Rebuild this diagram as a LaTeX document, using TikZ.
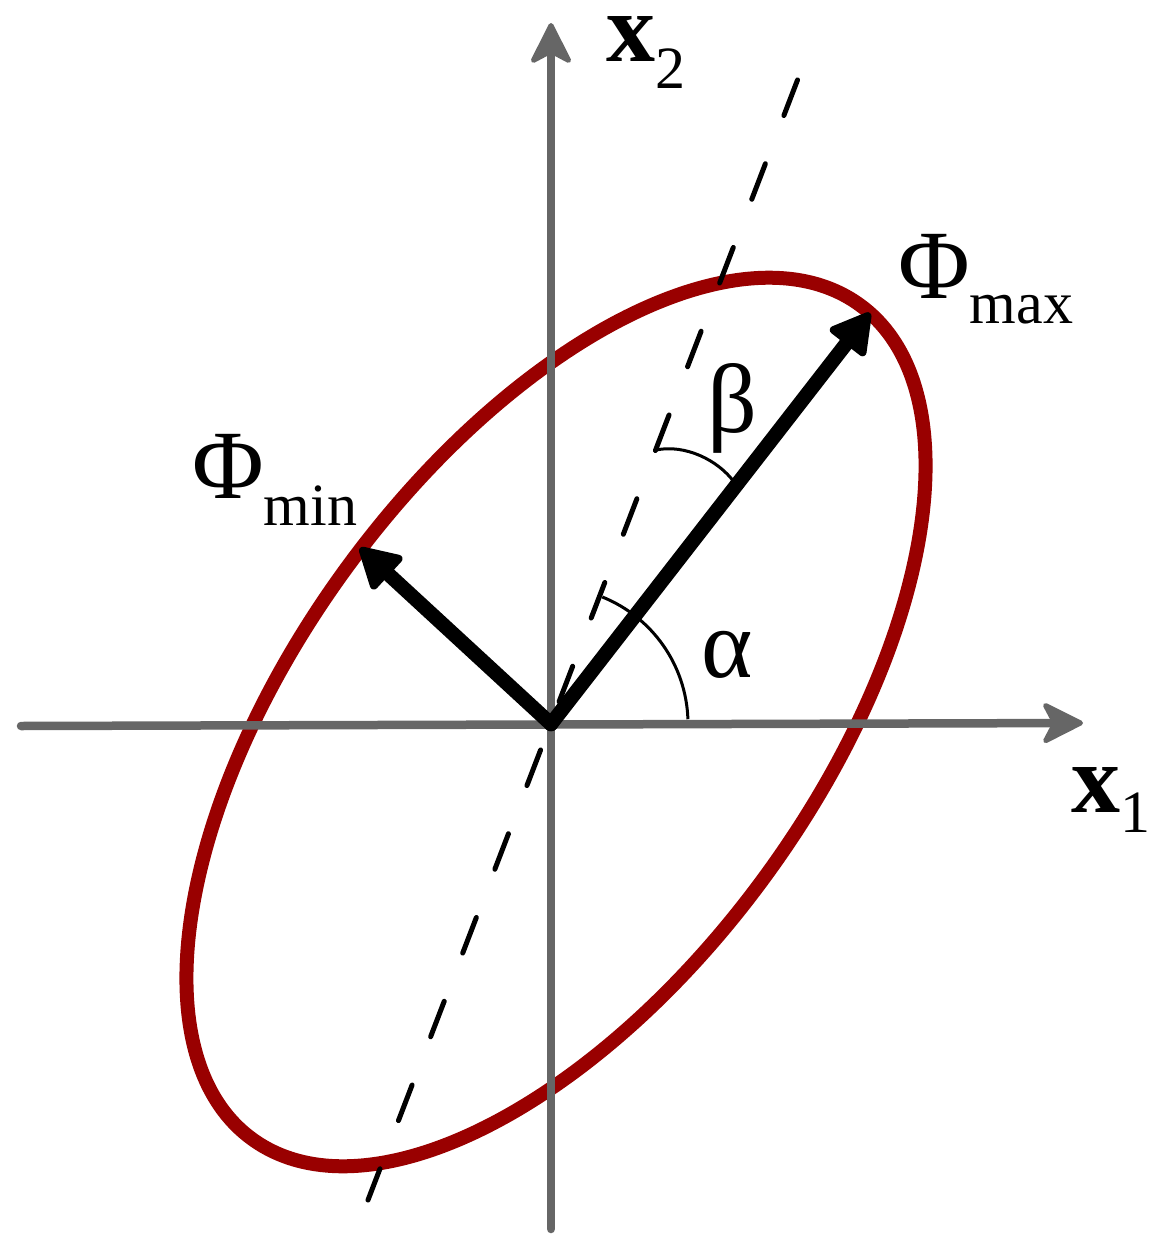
\documentclass[tikz,border=0pt]{standalone}
\usepackage{fontspec}
\setmainfont{Liberation Serif}
\usetikzlibrary{arrows.meta}
\definecolor{axisgray}{HTML}{666666}
\definecolor{ellred}{HTML}{990000}
\begin{document}
\begin{tikzpicture}[x=1pt,y=-1pt,
  axisline/.style={draw=axisgray, line width=8.5pt, line cap=round,
    -{Stealth[length=46pt,width=46pt,inset=12pt,line width=5pt,round]}},
  vecline/.style={draw=black, line width=14.5pt, line cap=round,
    -{Triangle[length=44pt,width=48pt,line width=8pt,round]}},
  dashline/.style={draw=black, line width=5pt, line cap=round, dash pattern=on 38pt off 51.7pt},
  anglearc/.style={draw=black, line width=3pt},
  ellipseline/.style={draw=ellred, line width=14pt},
  lbl/.style={inner sep=0pt, anchor=base west, font=\fontsize{98}{98}\selectfont},
  xlbl/.style={lbl, text height=46pt}
]
\useasboundingbox (0,0) rectangle (1157,1249);
\coordinate (O) at (551,724);
\coordinate (X1s) at (21,726);
\coordinate (X1e) at (1083,723);
\coordinate (X2s) at (551,1229);
\coordinate (X2e) at (551,23);
\coordinate (Dtop) at (797.5,80);
\coordinate (Dbot) at (368,1200);
\coordinate (Pmax) at (870,313);
\coordinate (Pmin) at (360,548);
\coordinate (C) at (556,722);

% ellipse
\draw[ellipseline, shift={(C)}, rotate=53.9] (0,0) ellipse [x radius=516, y radius=260];

% axes
\draw[axisline] (X1s) -- (X1e);
\draw[axisline] (X2s) -- (X2e);

% dashed principal line
\draw[dashline] (Dtop) -- (Dbot);

% angle arcs
\draw[anglearc] ([shift={(-2:137)}]O) arc[start angle=-2, end angle=-68, radius=137];
\draw[anglearc] (656,450) .. controls (685,444) and (718,460) .. (734,482);

% vectors
\draw[vecline] (O) -- (Pmax);
\draw[vecline] (O) -- (Pmin);

% labels
\node[xlbl] (x2) at (606,62) {\textbf{x}\raisebox{-27pt}{\fontsize{60}{60}\selectfont 2}};
\node[xlbl] (x1) at (1071,812) {\textbf{x}\raisebox{-20pt}{\fontsize{60}{60}\selectfont 1}};
\node[lbl] (pmaxl) at (898,298) {Φ\raisebox{-25pt}{\fontsize{60}{60}\selectfont max}};
\node[lbl] (pminl) at (192,498) {Φ\raisebox{-27pt}{\fontsize{60}{60}\selectfont min}};
\node[lbl] (al) at (701,677) {α};
\node[lbl] (bl) at (707,432) {β};
\end{tikzpicture}
\end{document}
